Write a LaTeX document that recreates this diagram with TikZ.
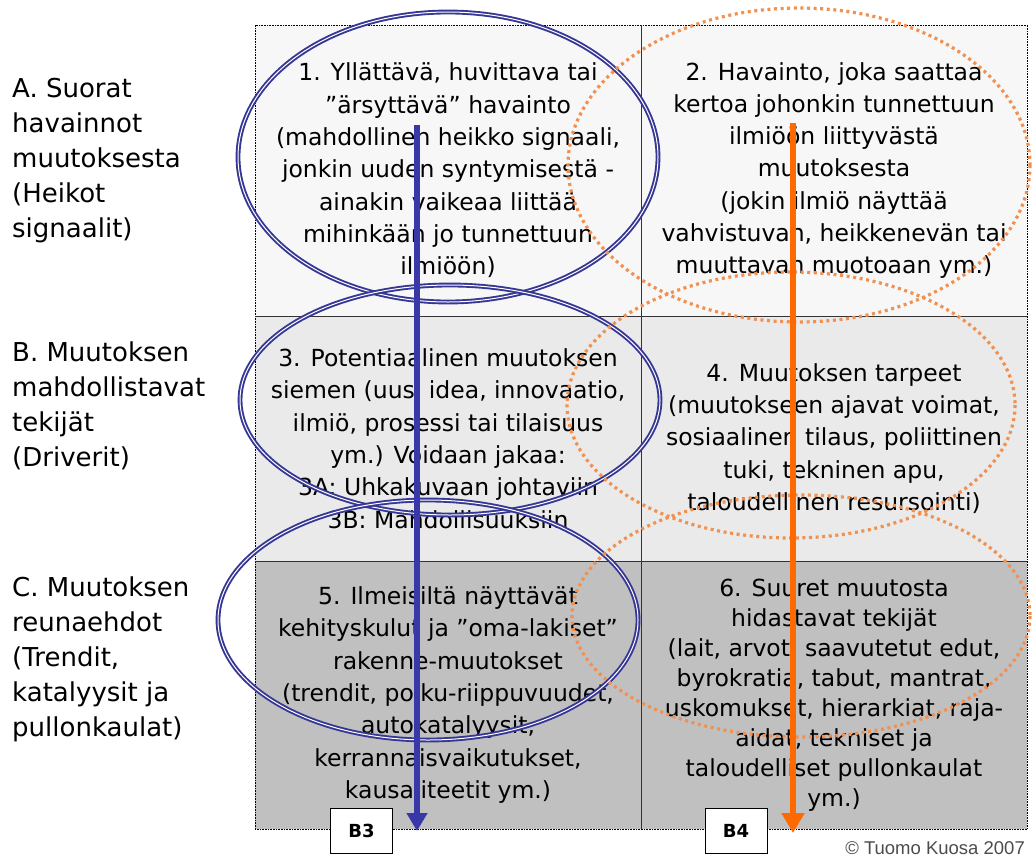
\documentclass[tikz,border=0pt]{standalone}
\usepackage{fontspec}
\setmainfont{DejaVu Sans}
\newfontfamily\copyfont{Liberation Sans}
\usetikzlibrary{arrows.meta}

\definecolor{rowA}{HTML}{F7F7F7}
\definecolor{rowB}{HTML}{EAEAEA}
\definecolor{rowC}{HTML}{C0C0C0}
\definecolor{loopblue}{HTML}{363694}
\definecolor{arrowblue}{HTML}{3838A8}
\definecolor{looporange}{HTML}{F29050}
\definecolor{arroworange}{HTML}{FF6A00}

\begin{document}
\begin{tikzpicture}[x=1pt,y=-1pt]
		\tikzstyle{cell}=[minimum width=386pt, inner sep=0pt, align=center,
							font=\fontsize{23.5}{32.3}\selectfont]
		\tikzstyle{rowlabel}=[anchor=north west, inner sep=0pt, align=left,
							font=\fontsize{26}{35}\selectfont]
		\tikzstyle{blueloop}=[draw=loopblue, line width=1.9pt, double=white,
							double distance=1pt]
		\tikzstyle{orangeloop}=[draw=looporange, line width=3.2pt,
							dash pattern=on 3pt off 3.6pt]
		\tikzstyle{tag}=[draw, fill=white, line width=0.6pt, minimum width=62pt,
							minimum height=45pt, font=\fontsize{18}{18}\bfseries\selectfont]

		\useasboundingbox (0,0) rectangle (1032,857);

		% cells
		\node[cell, fill=rowA, minimum height=291pt] (c1) at (448,170.5)
			{1. Yllättävä, huvittava tai\\”ärsyttävä” havainto\\(mahdollinen heikko signaali,\\jonkin uuden syntymisestä -\\ainakin vaikeaa liittää\\mihinkään jo tunnettuun\\ilmiöön)};
		\node[cell, fill=rowA, minimum height=291pt] (c2) at (834,170.5)
			{2. Havainto, joka saattaa\\kertoa johonkin tunnettuun\\ilmiöön liittyvästä\\muutoksesta\\(jokin ilmiö näyttää\\vahvistuvan, heikkenevän tai\\muuttavan muotoaan ym.)};
		\node[cell, fill=rowB, minimum height=245pt] (c3) at (448,438.5)
			{3. Potentiaalinen muutoksen\\siemen (uusi idea, innovaatio,\\ilmiö, prosessi tai tilaisuus\\ym.) Voidaan jakaa:\\3A: Uhkakuvaan johtaviin\\3B: Mahdollisuuksiin};
		\node[cell, fill=rowB, minimum height=245pt] (c4) at (834,438.5)
			{4. Muutoksen tarpeet\\(muutokseen ajavat voimat,\\sosiaalinen tilaus, poliittinen\\tuki, tekninen apu,\\taloudellinen resursointi)};
		\node[cell, fill=rowC, minimum height=268pt] (c5) at (448,695)
			{5. Ilmeisiltä näyttävät\\kehityskulut ja ”oma-lakiset”\\rakenne-muutokset\\(trendit, polku-riippuvuudet,\\autokatalyysit,\\kerrannaisvaikutukset,\\kausaliteetit ym.)};
		\node[cell, fill=rowC, minimum height=268pt,
			font=\fontsize{23.5}{30}\selectfont] (c6) at (834,695)
			{6. Suuret muutosta\\hidastavat tekijät\\(lait, arvot, saavutetut edut,\\byrokratia, tabut, mantrat,\\uskomukset, hierarkiat, raja-\\aidat, tekniset ja\\taloudelliset pullonkaulat\\ym.)};

		% grid
		\draw[densely dotted, line width=0.6pt] (c1.north west) rectangle (c6.south east);
		\draw[line width=0.8pt, black!80] (c1.north east) -- (c5.south east);
		\draw[line width=0.8pt, black!80] (c1.south west) -- (c2.south east);
		\draw[line width=0.8pt, black!80] (c3.south west) -- (c4.south east);

		% row labels
		\node[rowlabel] (labA) at (12,78) {A. Suorat\\havainnot\\muutoksesta\\(Heikot\\signaalit)};
		\node[rowlabel] (labB) at (12,342) {B. Muutoksen\\mahdollistavat\\tekijät\\(Driverit)};
		\node[rowlabel] (labC) at (12,577) {C. Muutoksen\\reunaehdot\\(Trendit,\\katalyysit ja\\pullonkaulat)};

		% loops
		\foreach \cx/\cy/\ry in {448/157/145, 450/400/115, 428/620/120}
			\draw[blueloop] (\cx,\cy) ellipse [x radius=210, y radius=\ry];
		\foreach \cx/\cy/\rx/\ry in {799/165/231/157, 791/405/224/133, 801/616/229/121}
			\draw[orangeloop] (\cx,\cy) ellipse [x radius=\rx, y radius=\ry];

		% arrows
		\coordinate (blueS) at (417,125);
		\coordinate (blueE) at (417,831);
		\coordinate (orangeS) at (793,123);
		\coordinate (orangeE) at (793,833);
		\draw[arrowblue, line width=6pt, -{Triangle[width=20pt,length=18pt]}] (blueS) -- (blueE);
		\draw[arroworange, line width=6.5pt, -{Triangle[width=22pt,length=20pt]}] (orangeS) -- (orangeE);

		% tags
		\node[tag] (B3) at (361.5,830.5) {B3};
		\node[tag] (B4) at (736,830.5) {B4};

		\node[anchor=base east, inner sep=0pt, text=black!70,
			font=\copyfont\fontsize{18.5}{18.5}\selectfont] (copy) at (1025,854) {© Tuomo Kuosa 2007};

	\end{tikzpicture}
\end{document}
